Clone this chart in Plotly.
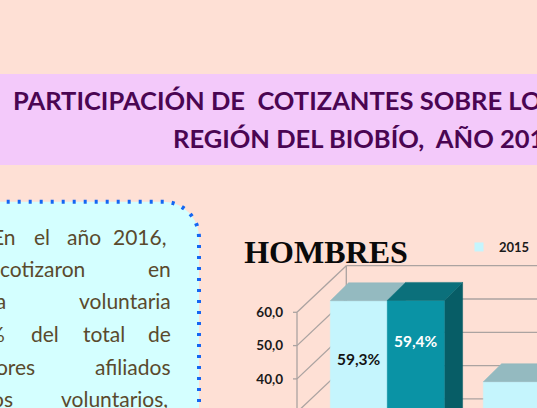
import plotly.graph_objects as go

# ---------------- data ----------------
CATEGORIES = ["Categoría 1", "Categoría 2"]
SERIES_NAMES = ["2015", "2016"]
VALUES_2015 = [59.3, 35.0]
VALUES_2016 = [59.4, None]          # second value lies outside the visible crop
Y_TICKS = [0, 10, 20, 30, 40, 50, 60]
Y_TICK_LABELS = ["0,0", "10,0", "20,0", "30,0", "40,0", "50,0", "60,0"]
CHART_TITLE = "HOMBRES"
HEADER_LINE_1 = "PARTICIPACIÓN DE  COTIZANTES SOBRE LOS"
HEADER_LINE_2 = "REGIÓN DEL BIOBÍO,  AÑO 2016"
BODY_WORDS = [
    ["En", "el", "año", "2016,"],
    ["cotizaron", "en"],
    ["forma", "voluntaria"],
    ["%", "del", "total", "de"],
    ["trabajadores", "afiliados"],
    ["os", "voluntarios,"],
]

# ---------------- layout / style ----------------
W, H = 537, 408
def fx(p):
    return p / W
def fy(p):
    return 1 - p / H

BG = "#FEE0D5"
BAND = "#F3C9FA"
TITLE_COLOR = "#4A0552"
BOX_FILL = "#D4FFFF"
BOX_LINE = "#1466F2"
BODY_COLOR = "#5A4A2D"
WALL_COLOR = "#ABA3A1"
FRONT = ["#C5F5FD", "#0A93A5"]
TOP = ["#94BAC0", "#0B707B"]
SIDE = ["#7FA6AB", "#075D66"]
LABEL_COLOR = ["#141414", "#FFFFFF"]

# chart geometry in pixels (front axis plane)
PLOT_L, PLOT_R, PLOT_T, PLOT_B = 288, 537, 255, 408
Y_REF_VAL, Y_REF_PX, PX_PER_UNIT = 60, 312.3, 3.33
GROUP0_PX, PITCH_PX = 387.3, 153.0
BAR_W = 57 / PITCH_PX
AXIS_X = (297 - GROUP0_PX) / PITCH_PX
WALL_DX = 49.3 / PITCH_PX
WALL_DY = 46.6 / PX_PER_UNIT
BAR_SHIFT_Y = 13.9 / PX_PER_UNIT
BAR_DX = 18.3 / PITCH_PX
BAR_DY = 18.0 / PX_PER_UNIT
TICK_LEN = 4 / PITCH_PX
LABEL_DROP = [17.6, 12.2]

y_lo = Y_REF_VAL - (PLOT_B - Y_REF_PX) / PX_PER_UNIT
y_hi = Y_REF_VAL + (Y_REF_PX - PLOT_T) / PX_PER_UNIT
x_lo = (PLOT_L - GROUP0_PX) / PITCH_PX
x_hi = (PLOT_R - GROUP0_PX) / PITCH_PX

fig = go.Figure()

# ---- walls and axis lines ----
wx, wy = [], []
for v in Y_TICKS:
    wx += [AXIS_X, AXIS_X + WALL_DX, None, AXIS_X + WALL_DX, x_hi + 1, None]
    wy += [v, v + WALL_DY, None, v + WALL_DY, v + WALL_DY, None]
    wx += [AXIS_X - TICK_LEN, AXIS_X, None]
    wy += [v, v, None]
wx += [AXIS_X + WALL_DX, AXIS_X + WALL_DX, None, AXIS_X, AXIS_X, None]
wy += [Y_TICKS[0] + WALL_DY, Y_TICKS[-1] + WALL_DY, None, Y_TICKS[0], Y_TICKS[-1], None]
fig.add_trace(go.Scatter(x=wx, y=wy, mode="lines", line=dict(color=WALL_COLOR, width=1.3),
                         hoverinfo="skip", showlegend=False))

# ---- 3D bars ----
series = [VALUES_2015, VALUES_2016]
annotations = []
for i, cat in enumerate(CATEGORIES):
    for s, vals in enumerate(series):
        v = vals[i]
        if v is None:
            continue
        x0 = i - BAR_W if s == 0 else i
        x1 = x0 + BAR_W
        base = BAR_SHIFT_Y
        top = BAR_SHIFT_Y + v
        polys = [
            ([x1, x1, x1 + BAR_DX, x1 + BAR_DX, x1], [base, top, top + BAR_DY, base + BAR_DY, base], SIDE[s]),
            ([x0, x0, x1, x1, x0], [base, top, top, base, base], FRONT[s]),
            ([x0, x1, x1 + BAR_DX, x0 + BAR_DX, x0], [top, top, top + BAR_DY, top + BAR_DY, top], TOP[s]),
        ]
        for px_, py_, col in polys:
            fig.add_trace(go.Scatter(x=px_, y=py_, mode="lines", fill="toself", fillcolor=col,
                                     line=dict(color=col, width=0.5), hoverinfo="skip",
                                     showlegend=False, name=SERIES_NAMES[s]))
        annotations.append(dict(
            x=(x0 + x1) / 2, y=top - LABEL_DROP[s], xref="x", yref="y",
            text=f"{v:.1f}".replace(".", ",") + "%", showarrow=False,
            font=dict(family="Lato", size=15.5, color=LABEL_COLOR[s], weight="bold"),
            xanchor="center", yanchor="middle"))

# legend proxy (only the 2015 entry is inside the crop)
fig.add_trace(go.Scatter(x=[None], y=[None], mode="markers", name=SERIES_NAMES[0],
                         marker=dict(symbol="square", size=9, color=FRONT[0]), showlegend=True))

# ---- header band ----
shapes = [
    dict(type="rect", xref="paper", yref="paper", x0=0, x1=1, y0=fy(165), y1=fy(74),
         fillcolor=BAND, line=dict(width=0), layer="below"),
]
# rounded text box with dotted border
r = 36
k = 0.552 * r
path = (f"M {fx(-30)},{fy(440)} L {fx(-30)},{fy(201.7)} L {fx(199 - r)},{fy(201.7)} "
        f"C {fx(199 - r + k)},{fy(201.7)} {fx(199)},{fy(201.7 + r - k)} {fx(199)},{fy(201.7 + r)} "
        f"L {fx(199)},{fy(440)} Z")
shapes.append(dict(type="path", xref="paper", yref="paper", path=path, fillcolor=BOX_FILL,
                   line=dict(color=BOX_LINE, width=4, dash="3px,8px"), layer="below"))

annotations.append(dict(x=fx(11), y=fy(99.5), xref="paper", yref="paper", text=HEADER_LINE_1,
                        showarrow=False, xanchor="left", yanchor="middle",
                        font=dict(family="Lato", size=25.5, color=TITLE_COLOR, weight="bold")))
annotations.append(dict(x=fx(171), y=fy(137.5), xref="paper", yref="paper", text=HEADER_LINE_2,
                        showarrow=False, xanchor="left", yanchor="middle",
                        font=dict(family="Lato", size=25.5, color=TITLE_COLOR, weight="bold")))

# body text (justified lines)
WORD_POS = [
    [("right", 18), ("center", 42), ("center", 83.5), ("right", 169.5)],
    [("right", 87), ("right", 172.5)],
    [("right", 7.5), ("right", 172.5)],
    [("right", 7), ("center", 44.5), ("center", 104), ("right", 172.5)],
    [("right", 37), ("right", 172.5)],
    [("right", 15), ("right", 170)],
]
BASELINES = [243.3, 275.5, 307.7, 340, 373, 405]
BODY_SIZE = 21
for words, poss, base in zip(BODY_WORDS, WORD_POS, BASELINES):
    for w, (anc, xp) in zip(words, poss):
        annotations.append(dict(x=fx(xp), y=fy(base - 0.32 * BODY_SIZE), xref="paper", yref="paper",
                                text=w, showarrow=False, xanchor=anc, yanchor="middle",
                                font=dict(family="Lato", size=BODY_SIZE, color=BODY_COLOR)))

fig.update_layout(
    width=W, height=H, autosize=False, template="none",
    paper_bgcolor=BG, plot_bgcolor="rgba(0,0,0,0)",
    margin=dict(l=0, r=0, t=0, b=0),
    font=dict(family="Lato"),
    title=dict(text=CHART_TITLE, x=fx(326), y=fy(251.5), xref="container", yref="container",
               xanchor="center", yanchor="middle",
               font=dict(family="Liberation Serif", size=32, color="#0A0A0A", weight="bold")),
    xaxis=dict(domain=[fx(PLOT_L), 1], range=[x_lo, x_hi], visible=False, fixedrange=True),
    yaxis=dict(domain=[fy(PLOT_B), fy(PLOT_T)], range=[y_lo, y_hi], tickvals=Y_TICKS,
               ticktext=Y_TICK_LABELS, showgrid=False, zeroline=False, showline=False, ticks="",
               ticklabelstandoff=4, automargin=False, fixedrange=True,
               tickfont=dict(family="Lato", size=13.5, color="#1A1A1A", weight="bold")),
    showlegend=True,
    legend=dict(x=fx(459), y=fy(247), xanchor="left", yanchor="middle", orientation="h",
                bgcolor="rgba(0,0,0,0)", borderwidth=0, itemwidth=30,
                font=dict(family="Lato", size=13, color="#1A1A1A", weight="bold")),
    shapes=shapes,
    annotations=annotations,
)

fig.write_html("out.html", config={"displayModeBar": False},
               post_script="document.body.style.margin='0';document.body.style.overflow='hidden';")
